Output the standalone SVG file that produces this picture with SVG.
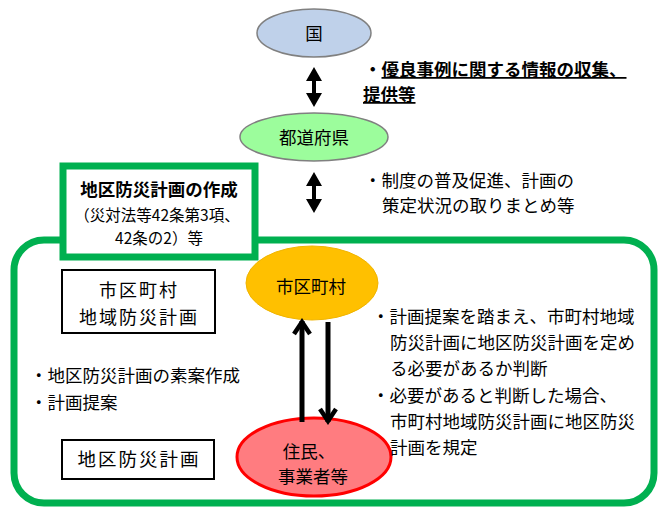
<svg xmlns="http://www.w3.org/2000/svg" width="668" height="512" viewBox="0 0 668 512">
<style>
text{font-family:"Noto Sans CJK JP","Noto Sans",sans-serif;fill:#000}
.t{font-size:17.5px}
.b{font-weight:bold}
.box{fill:#fff;stroke:#000;stroke-width:2}
.u{text-decoration:underline}
</style>
<defs>
<marker id="chev" viewBox="0 0 20 20" refX="17" refY="10" markerWidth="20" markerHeight="20" markerUnits="userSpaceOnUse" orient="auto">
<path d="M4,2 L16,10 L4,18" fill="none" stroke="#000" stroke-width="4.5" stroke-linejoin="miter"/>
</marker>
</defs>
<rect width="668" height="512" fill="#fff"/>
<g id="frame-municipal">
<rect x="14" y="240" width="640" height="263" rx="30" fill="#fff" stroke="#00b050" stroke-width="7"/>
</g>
<g id="box-chiku-sakusei">
<rect x="63" y="166" width="192" height="91" fill="#fff" stroke="#00b050" stroke-width="7"/>
<text class="t b" x="159" y="196" text-anchor="middle">地区防災計画の作成</text>
<text x="157" y="221" font-size="15.5" text-anchor="middle">（災対法等42条第3項、</text>
<text x="159" y="244" font-size="15.5" text-anchor="middle">42条の2）等</text>
</g>
<g id="node-kuni">
<ellipse cx="314" cy="33" rx="57" ry="24" fill="#bfd1ea" stroke="#808080" stroke-width="1.5"/>
<text class="t" x="314" y="40" text-anchor="middle">国</text>
</g>
<g id="node-todofuken">
<ellipse cx="314" cy="137" rx="74" ry="24" fill="#9cfd9c" stroke="#808080" stroke-width="1.5"/>
<text class="t" x="314" y="144" text-anchor="middle" font-size="19">都道府県</text>
</g>
<g id="node-shikuchoson">
<ellipse cx="312" cy="283" rx="66" ry="37" fill="#ffc000" stroke="#f0b400" stroke-width="1"/>
<text class="t" x="311" y="293" text-anchor="middle">市区町村</text>
</g>
<g id="node-jumin">
<ellipse cx="314" cy="457" rx="77" ry="39" fill="#ff7c80" stroke="#ff0000" stroke-width="3"/>
<text class="t" x="309" y="458" text-anchor="middle" font-size="18">住民、</text>
<text class="t" x="313" y="483" text-anchor="middle" font-size="18">事業者等</text>
</g>
<g id="box-shikuchoson-plan">
<rect class="box" x="62" y="270" width="153" height="63"/>
<text x="139" y="297" font-size="18" letter-spacing="2" text-anchor="middle">市区町村</text>
<text x="139" y="324" font-size="18" letter-spacing="2" text-anchor="middle">地域防災計画</text>
</g>
<g id="box-chiku-plan">
<rect class="box" x="62" y="440" width="152" height="39"/>
<text x="139" y="466" font-size="18.5" letter-spacing="2" text-anchor="middle">地区防災計画</text>
</g>
<g id="label-kuni">
<text class="t b" x="364" y="76">・<tspan class="u">優良事例に関する情報の収集、</tspan></text>
<text class="t b u" x="363" y="101">提供等</text>
</g>
<g id="label-todofuken">
<text class="t" x="364" y="187">・制度の普及促進、計画の</text>
<text class="t" x="382" y="212">策定状況の取りまとめ等</text>
</g>
<g id="label-jumin">
<text class="t" x="30" y="382">・地区防災計画の素案作成</text>
<text class="t" x="30" y="409">・計画提案</text>
</g>
<g id="label-shikuchoson">
<text class="t" x="372" y="323">・計画提案を踏まえ、市町村地域</text>
<text class="t" x="390" y="349">防災計画に地区防災計画を定め</text>
<text class="t" x="390" y="375">る必要があるか判断</text>
<text class="t" x="372" y="402">・必要があると判断した場合、</text>
<text class="t" x="390" y="428">市町村地域防災計画に地区防災</text>
<text class="t" x="390" y="454">計画を規定</text>
</g>
<g id="connectors">
<path d="M314,67 L322,81 L316,81 L316,93 L322,93 L314,107 L306,93 L312,93 L312,81 L306,81 Z" fill="#000"/>
<path d="M314,172 L322,186 L316,186 L316,199 L322,199 L314,213 L306,199 L312,199 L312,186 L306,186 Z" fill="#000"/>
<line x1="302" y1="422" x2="302" y2="321" stroke="#000" stroke-width="5" marker-end="url(#chev)"/>
<line x1="328" y1="322" x2="328" y2="422" stroke="#000" stroke-width="5" marker-end="url(#chev)"/>
</g>
</svg>
